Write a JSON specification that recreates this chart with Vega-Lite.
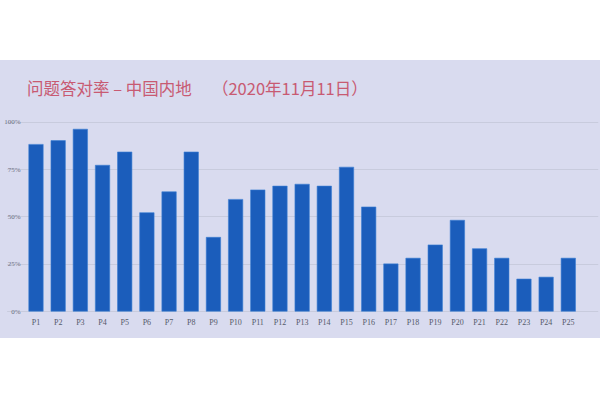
{
  "$schema": "https://vega.github.io/schema/vega-lite/v6.json",
  "width": 600,
  "height": 278,
  "autosize": "none",
  "padding": {"top": 60, "bottom": 62, "left": 0, "right": 0},
  "background": "white",
  "title": {
    "text": "问题答对率 – 中国内地　 （2020年11月11日）",
    "anchor": "start",
    "frame": "group",
    "dx": 27,
    "offset": -38,
    "fontSize": 16.5,
    "font": "Noto Sans CJK SC",
    "fontWeight": "normal",
    "color": "#c85a72"
  },
  "data": {
    "values": [
      {"q": "P1", "rate": 0.88},
      {"q": "P2", "rate": 0.90},
      {"q": "P3", "rate": 0.96},
      {"q": "P4", "rate": 0.77},
      {"q": "P5", "rate": 0.84},
      {"q": "P6", "rate": 0.52},
      {"q": "P7", "rate": 0.63},
      {"q": "P8", "rate": 0.84},
      {"q": "P9", "rate": 0.39},
      {"q": "P10", "rate": 0.59},
      {"q": "P11", "rate": 0.64},
      {"q": "P12", "rate": 0.66},
      {"q": "P13", "rate": 0.67},
      {"q": "P14", "rate": 0.66},
      {"q": "P15", "rate": 0.76},
      {"q": "P16", "rate": 0.55},
      {"q": "P17", "rate": 0.25},
      {"q": "P18", "rate": 0.28},
      {"q": "P19", "rate": 0.35},
      {"q": "P20", "rate": 0.48},
      {"q": "P21", "rate": 0.33},
      {"q": "P22", "rate": 0.28},
      {"q": "P23", "rate": 0.17},
      {"q": "P24", "rate": 0.18},
      {"q": "P25", "rate": 0.28}
    ]
  },
  "mark": {"type": "bar", "color": "#1b5dbb", "stroke": "#3d80d4", "strokeWidth": 0.6},
  "encoding": {
    "x": {
      "field": "q",
      "type": "nominal",
      "sort": null,
      "scale": {"range": [6.6, 597.7], "paddingInner": 0.35, "paddingOuter": 1, "align": 0.5},
      "axis": {
        "title": null,
        "labelAngle": 0,
        "offset": -25,
        "domain": false,
        "ticks": false,
        "labelPadding": 5,
        "labelFont": "Liberation Serif",
        "labelFontSize": 8,
        "labelColor": "#555a6a"
      }
    },
    "y": {
      "field": "rate",
      "type": "quantitative",
      "scale": {"domain": [-0.141, 1.325], "nice": false, "zero": false},
      "axis": {
        "title": null,
        "values": [0, 0.25, 0.5, 0.75, 1],
        "format": ".0%",
        "offset": -22,
        "domain": false,
        "ticks": false,
        "labelPadding": 2,
        "labelFont": "Liberation Serif",
        "labelFontSize": 7,
        "labelColor": "#6a6e80",
        "gridColor": "#c4c6d8",
        "gridWidth": 0.8
      }
    },
    "y2": {"datum": 0}
  },
  "config": {
    "view": {"fill": "#d9dbef", "stroke": null}
  }
}
